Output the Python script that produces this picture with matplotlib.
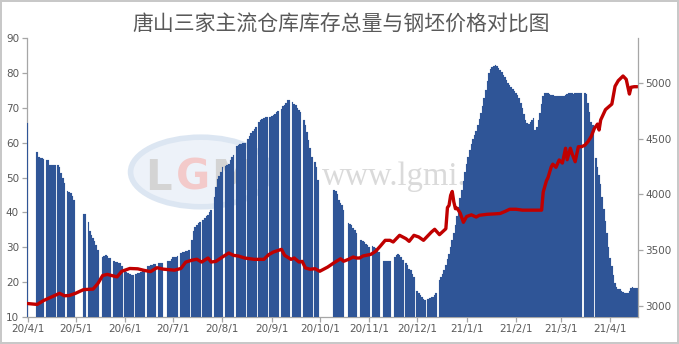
import datetime as dt
import matplotlib
matplotlib.use("Agg")
import matplotlib.pyplot as plt
import matplotlib.dates as mdates
from matplotlib.patches import Ellipse
from matplotlib.ticker import FuncFormatter, MultipleLocator

plt.rcParams['font.family'] = ['Noto Sans CJK SC', 'DejaVu Sans']

TITLE = "唐山三家主流仓库库存总量与钢坯价格对比图"
BAR_COLOR = "#2F5597"
LINE_COLOR = "#C00000"
TEXT_COLOR = "#595959"
AXIS_COLOR = "#A6A6A6"

# 库存总量（左轴），按月逐日，None = 当天无数据
stock_2020_04 = [65.6, None, None, None, None, None, 57.4, 55.9, 55.5, 55.5, 55.2, None,
                 55.0, 55.0, 53.6, 53.6, 53.6, 53.6, None, 53.6, 52.9, 51.4, 49.8, 48.4,
                 None, 46.0, 45.8, 45.5, 44.6, 43.5]
stock_2020_05 = [None, None, None, None, None, 39.5, 39.5, None, 37.2, 34.7, 33.5, 32.7,
                 31.7, 30.5, 29.3, None, None, 27.3, 27.5, 27.6, 27.4, 27.0, 26.8, None,
                 26.0, 25.8, 25.6, 25.5, 25.3, 24.6, None]
stock_2020_06 = [23.0, 22.8, 22.5, 22.3, 22.1, 22.0, None, 22.2, 22.5, 22.7, 22.9, 23.0,
                 23.0, None, 24.5, 24.7, 24.9, 25.0, 25.1, 25.2, None, 25.4, 25.4, 25.3,
                 None, None, None, 26.1, 26.1, 26.5]
stock_2020_07 = [27.3, 27.3, 27.3, 27.4, None, 28.4, 28.6, 28.6, 28.8, 29.0, 29.3, None,
                 32.0, 34.5, 35.8, 36.5, 36.9, 37.2, None, 37.8, 38.3, 38.8, 39.2, 40.2,
                 40.7, None, 44.5, 47.2, 49.6, 50.4, 51.5]
stock_2020_08 = [53.0, None, 53.3, 53.6, 54.0, 55.0, 56.0, 56.5, None, 59.0, 59.3, 59.5,
                 59.6, 59.8, 60.0, None, 61.0, 62.0, 62.8, 63.5, 64.0, 64.6, None, 66.1,
                 66.5, 66.8, 67.0, 67.3, 67.5, None, 67.5]
stock_2020_09 = [67.7, 67.9, 68.3, 68.7, 69.2, None, 69.8, 70.5, 70.9, 71.5, 72.2, 72.4,
                 None, 71.6, 71.2, 70.8, 70.0, 69.3, 68.8, None, 66.5, 65.0, 63.0, 60.8,
                 58.5, 56.0, None, 54.5, 53.0, 49.3]
stock_2020_10 = [None, None, None, None, None, None, None, None, None, 46.4, 46.0, 45.2,
                 43.6, 42.8, 42.1, 40.7, None, None, 36.9, 36.6, 36.4, 35.5, 34.9, 34.0,
                 None, None, 32.1, 31.8, 31.6, 31.0, 30.5]
stock_2020_11 = [30.1, None, 30.3, 30.0, 29.7, 29.2, 28.7, None, None, 26.0, 26.0, 26.0,
                 26.0, 25.9, None, None, 27.2, 27.8, 28.1, 27.8, 27.2, 26.3, None, 25.5,
                 24.9, 23.8, 23.4, 22.3, 21.5, None]
stock_2020_12 = [17.4, 16.7, 16.2, 15.7, 15.2, 14.8, None, 15.0, 15.3, 15.6, 15.8, 16.2,
                 16.7, None, 20.5, 21.5, 22.3, 23.5, 24.8, 26.5, 28.0, 30.0, 32.0, 34.2,
                 36.5, 38.8, 41.5, 44.0, 46.5, 49.0, 51.5]
stock_2021_01 = [54.0, 56.0, 57.8, 59.5, 61.0, 62.3, 63.5, 65.0, 66.8, 68.5, 70.5, 72.8,
                 75.2, 77.8, 80.0, 81.2, 81.8, 82.2, 82.4, 82.2, 81.6, 81.0, 80.4, 79.6,
                 78.8, 78.0, 77.3, 76.6, 76.0, 75.5, 74.9]
stock_2021_02 = [74.4, 73.6, 72.8, 71.5, 70.0, 68.2, 66.5, 65.8, 65.5, 66.0, 66.5, 67.0,
                 63.8, 64.5, 66.5, 68.5, 71.0, 73.5, 74.2, 74.3, 74.2, 74.0, 73.8, 73.6,
                 73.5, 73.4, 73.3, 73.3]
stock_2021_03 = [73.4, 73.5, 73.5, 73.6, 73.9, 74.3, 74.4, 74.2, 74.1, 74.2, 74.2, 74.2,
                 74.2, 74.3, None, 74.3, 74.0, 71.5, 68.8, 66.1, 65.0, None, 55.5, 53.0,
                 50.8, 48.0, 44.5, 41.0, 37.5, 34.0, 30.0]
stock_2021_04 = [27.0, 24.5, 22.0, 19.8, 18.4, 18.0, 18.0, 17.5, 17.2, 16.8, 16.7, 16.9,
                 17.5, 18.3, 18.6, 18.2, 18.2, 18.3]

# 钢坯价格（右轴）
price_dates = [
    "2020-04-01", "2020-04-07", "2020-04-11", "2020-04-16", "2020-04-21", "2020-04-24",
    "2020-04-27", "2020-05-01", "2020-05-06", "2020-05-12", "2020-05-15", "2020-05-18",
    "2020-05-21", "2020-05-23", "2020-05-27", "2020-05-30", "2020-06-04", "2020-06-09",
    "2020-06-13", "2020-06-17", "2020-06-21", "2020-06-25", "2020-07-02", "2020-07-06",
    "2020-07-09", "2020-07-13", "2020-07-16", "2020-07-19", "2020-07-23", "2020-07-25",
    "2020-07-28", "2020-08-01", "2020-08-05", "2020-08-08", "2020-08-11", "2020-08-15",
    "2020-08-21", "2020-08-27", "2020-08-30", "2020-09-02", "2020-09-05", "2020-09-07",
    "2020-09-09", "2020-09-13", "2020-09-15", "2020-09-18", "2020-09-20", "2020-09-22",
    "2020-09-25", "2020-09-28", "2020-10-01", "2020-10-06", "2020-10-10", "2020-10-14",
    "2020-10-16", "2020-10-19", "2020-10-22", "2020-10-24", "2020-10-26", "2020-10-28",
    "2020-11-02", "2020-11-05", "2020-11-08", "2020-11-11", "2020-11-14", "2020-11-16",
    "2020-11-20", "2020-11-24", "2020-11-26", "2020-11-29", "2020-12-02", "2020-12-05",
    "2020-12-08", "2020-12-10", "2020-12-12", "2020-12-15", "2020-12-19", "2020-12-20",
    "2020-12-21", "2020-12-22", "2020-12-23", "2020-12-24", "2020-12-25", "2020-12-26",
    "2020-12-28", "2020-12-30", "2021-01-01", "2021-01-04", "2021-01-07", "2021-01-09",
    "2021-01-14", "2021-01-18", "2021-01-22", "2021-01-25", "2021-01-28", "2021-02-01",
    "2021-02-05", "2021-02-17", "2021-02-18", "2021-02-20", "2021-02-21", "2021-02-23",
    "2021-02-24", "2021-02-26", "2021-02-28", "2021-03-02", "2021-03-04", "2021-03-05",
    "2021-03-07", "2021-03-08", "2021-03-10", "2021-03-12", "2021-03-14", "2021-03-16",
    "2021-03-18", "2021-03-20", "2021-03-22", "2021-03-24", "2021-03-25", "2021-03-26",
    "2021-03-29", "2021-04-02", "2021-04-04", "2021-04-06", "2021-04-09", "2021-04-11",
    "2021-04-13", "2021-04-14", "2021-04-16", "2021-04-18",
]
price_values = [
    3018, 3010, 3045, 3077, 3110, 3088,
    3090, 3110, 3143, 3148, 3198, 3270,
    3280, 3272, 3258, 3308, 3333, 3330,
    3316, 3305, 3340, 3327, 3318, 3333,
    3390, 3408, 3416, 3391, 3427, 3391,
    3397, 3436, 3472, 3451, 3445, 3427,
    3415, 3415, 3457, 3481, 3496, 3505,
    3451, 3415, 3427, 3391, 3397, 3338,
    3326, 3331, 3308, 3346, 3385, 3420,
    3398, 3415, 3436, 3427, 3427, 3445,
    3460, 3487, 3535, 3586, 3586, 3571,
    3631, 3601, 3577, 3631, 3616, 3586,
    3631, 3661, 3685, 3637, 3690, 3880,
    3900, 3990, 4025, 3930, 3870, 3875,
    3830, 3748, 3800, 3815, 3795, 3811,
    3820, 3823, 3827, 3845, 3865, 3865,
    3857, 3857, 4020, 4120, 4150, 4245,
    4270, 4242, 4308, 4280, 4413, 4310,
    4413, 4368, 4292, 4427, 4427, 4440,
    4472, 4517, 4590, 4630, 4577, 4667,
    4760, 4810, 4970, 5020, 5062, 5032,
    4900, 4961, 4966, 4966,
]

months = [
    (2020, 4, stock_2020_04), (2020, 5, stock_2020_05), (2020, 6, stock_2020_06),
    (2020, 7, stock_2020_07), (2020, 8, stock_2020_08), (2020, 9, stock_2020_09),
    (2020, 10, stock_2020_10), (2020, 11, stock_2020_11), (2020, 12, stock_2020_12),
    (2021, 1, stock_2021_01), (2021, 2, stock_2021_02), (2021, 3, stock_2021_03),
    (2021, 4, stock_2021_04),
]
bar_x, bar_y = [], []
for year, month, values in months:
    first = dt.date(year, month, 1)
    for i, v in enumerate(values):
        if v is not None:
            bar_x.append(first + dt.timedelta(days=i))
            bar_y.append(v)
line_x = [dt.date.fromisoformat(s) for s in price_dates]

fig = plt.figure(figsize=(6.79, 3.44), dpi=100, facecolor="white",
                 edgecolor="#C8C8C8", linewidth=1.5)
ax = fig.add_axes([0.0393, 0.0794, 0.8999, 0.8090])
ax.patch.set_visible(False)

# watermark (behind the bars)
ax.add_patch(Ellipse((0.285, 0.52), 0.23, 0.25, transform=ax.transAxes,
                     facecolor="#EDF2F9", edgecolor="#DCE6F2", linewidth=4, zorder=0.2))
for xf, letter, col in [(0.215, "L", "#D4D4D4"), (0.272, "G", "#F3CACA"),
                        (0.335, "M", "#D4D4D4")]:
    ax.text(xf, 0.50, letter, transform=ax.transAxes, ha="center", va="center",
            fontsize=30, fontweight="bold", color=col, family="DejaVu Sans",
            zorder=0.3)
ax.text(0.483, 0.473, "www.lgmi.com", transform=ax.transAxes, ha="left",
        va="baseline", fontsize=23.5, color="#DADADA", family="Liberation Serif",
        zorder=0.3)

ax.bar(bar_x, bar_y, width=1.0, color=BAR_COLOR, edgecolor=BAR_COLOR,
       linewidth=0.1, zorder=3)
ax.set_ylim(10, 90)
ax.yaxis.set_major_locator(MultipleLocator(10))

ax2 = ax.twinx()
ax2.plot(line_x, price_values, color=LINE_COLOR, linewidth=2.4,
         solid_joinstyle="round", solid_capstyle="round")
ax2.set_ylim(2900, 5400)
ax2.yaxis.set_major_locator(MultipleLocator(500))

x_left = mdates.date2num(dt.date(2020, 4, 1)) - 0.6
x_right = mdates.date2num(dt.date(2021, 4, 18)) + 0.2
for a in (ax, ax2):
    a.set_autoscalex_on(False)
    a.set_xlim(x_left, x_right)
ax.xaxis.set_major_locator(mdates.MonthLocator(bymonthday=1))
ax.xaxis.set_major_formatter(FuncFormatter(
    lambda x, pos: "{}/{}/{}".format(mdates.num2date(x).year % 100,
                                     mdates.num2date(x).month,
                                     mdates.num2date(x).day)))

for a in (ax, ax2):
    a.spines["top"].set_visible(False)
    for s in ("left", "right", "bottom"):
        a.spines[s].set_color(AXIS_COLOR)
        a.spines[s].set_linewidth(0.9)
    a.tick_params(axis="both", colors=AXIS_COLOR, labelcolor=TEXT_COLOR,
                  labelsize=7.5, length=3.5, width=0.9, pad=2)
    for lab in a.get_xticklabels() + a.get_yticklabels():
        lab.set_family("DejaVu Sans")
ax.spines["right"].set_visible(False)
ax2.spines["left"].set_visible(False)
ax2.spines["bottom"].set_visible(False)

fig.text(0.502, 0.927, TITLE, ha="center", va="center", fontsize=15,
         color=TEXT_COLOR)

fig.savefig("out.png", dpi=100, facecolor="white", edgecolor=fig.get_edgecolor())
